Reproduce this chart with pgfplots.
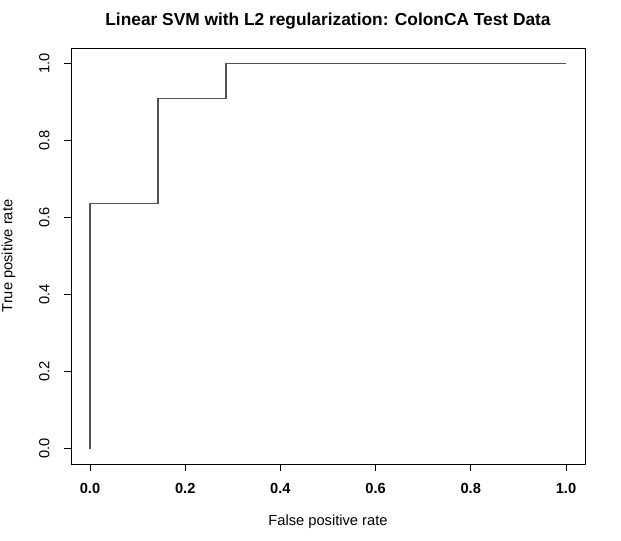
\documentclass[border=0pt]{standalone}
\usepackage{pgfplots}
\pgfplotsset{compat=1.18}
\usepackage{fontspec}
\setmainfont{Liberation Sans}
\begin{document}
\begin{tikzpicture}[x=0.75pt,y=0.75pt]
\path[use as bounding box] (0,0) rectangle (621,540);
\begin{axis}[
  at={(71pt*0.75,76pt*0.75)}, anchor=south west,
  scale only axis, width=385.5pt, height=312pt,
  xmin=-0.04, xmax=1.04, ymin=-0.04, ymax=1.04,
  xtick={0,0.2,0.4,0.6,0.8,1.0}, ytick={0,0.2,0.4,0.6,0.8,1.0},
  xtick pos=bottom, ytick pos=left,
  tick align=outside, major tick length=5.25pt,
  tick style={black, line width=0.6pt},
  axis line style={line width=0.7pt},
  /pgf/number format/assume math mode=true,
  xticklabel style={/pgf/number format/.cd, fixed, fixed zerofill, precision=1, /tikz/.cd, font=\fontsize{11}{12}\selectfont\bfseries, yshift=-5.5pt},
  yticklabel style={/pgf/number format/.cd, fixed, fixed zerofill, precision=1, /tikz/.cd, font=\fontsize{11}{12}\selectfont, rotate=90, anchor=south},
  yticklabel shift=7.3pt,
  title={\bfseries Linear SVM with L2 regularization: ColonCA Test Data},
  title style={font=\fontsize{13}{15}\selectfont, at={(0.5,1)}, anchor=south, yshift=4.7pt},
  xlabel={False positive rate},
  ylabel={True positive rate},
  xlabel style={font=\fontsize{11}{12}\selectfont, yshift=-9.5pt},
  ylabel style={font=\fontsize{11}{12}\selectfont, yshift=11pt},
]
\addplot[line width=1pt, color=black!68, const plot, mark=none] coordinates {
(0,0) (0,0.636) (0.143,0.636) (0.143,0.909) (0.286,0.909) (0.286,1.0) (1.0,1.0)
};
\end{axis}
\end{tikzpicture}
\end{document}
